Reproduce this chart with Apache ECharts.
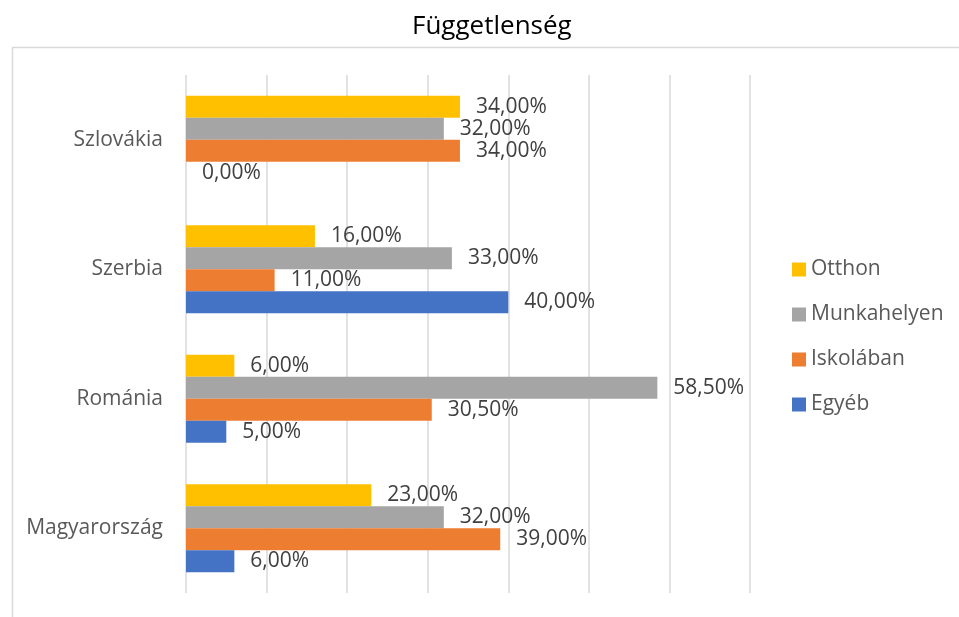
<!DOCTYPE html>
<html>
<head>
<meta charset="utf-8">
<script src="https://cdn.jsdelivr.net/npm/echarts@6/dist/echarts.min.js"></script>
<style>html,body{margin:0;padding:0;background:#fff;}#c{width:959px;height:617px;}</style>
</head>
<body>
<div id="c"></div>
<script>
const categories = ['Magyarország', 'Románia', 'Szerbia', 'Szlovákia'];
const seriesNames = ['Otthon', 'Munkahelyen', 'Iskolában', 'Egyéb'];
const otthon = [23, 6, 16, 34];
const munkahelyen = [32, 58.5, 33, 32];
const iskolaban = [39, 30.5, 11, 34];
const egyeb = [6, 5, 40, 0];
const colors = ['#FFC000', '#A5A5A5', '#ED7D31', '#4472C4'];

const font = '"Open Sans", "Noto Sans", sans-serif';
const seriesData = [otthon, munkahelyen, iskolaban, egyeb];

const chart = echarts.init(document.getElementById('c'));
chart.setOption({
  animation: false,
  graphic: [{
    type: 'rect', left: 10, top: 45, silent: true, z: -10,
    shape: { width: 1200, height: 800 },
    style: { fill: 'none', stroke: '#D9D9D9', lineWidth: 1.5 }
  }],
  title: {
    text: 'Függetlenség', left: 407, top: 9,
    textStyle: { fontFamily: font, fontSize: 26, fontWeight: 'normal', color: '#000' }
  },
  legend: {
    orient: 'vertical', left: 792, top: 259, padding: 0,
    data: seriesNames, icon: 'rect', itemWidth: 14, itemHeight: 14, itemGap: 24,
    textStyle: { fontFamily: font, fontSize: 21, color: '#595959' }
  },
  grid: { left: 186, right: 209, top: 75, bottom: 24, containLabel: false },
  xAxis: {
    type: 'value', min: 0, max: 70, interval: 10,
    axisLabel: { show: false }, axisLine: { show: false }, axisTick: { show: false },
    splitLine: { show: true, lineStyle: { color: '#D9D9D9', width: 1.5 } }
  },
  yAxis: {
    type: 'category', data: categories,
    axisLine: { show: false }, axisTick: { show: false },
    axisLabel: { fontFamily: font, fontSize: 21, color: '#595959', margin: 23 }
  },
  series: seriesNames.map((n, i) => ({
    name: n, type: 'bar', data: seriesData[i], barWidth: 22, barGap: '0%',
    itemStyle: { color: colors[i] },
    label: {
      show: true, position: 'right', distance: 16,
      fontFamily: font, fontSize: 21, color: '#404040',
      formatter: p => p.value.toFixed(2).replace('.', ',') + '%'
    }
  }))
});
</script>
</body>
</html>
